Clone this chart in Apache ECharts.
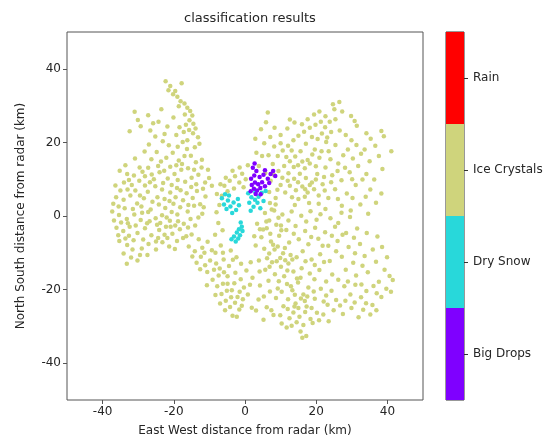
<!DOCTYPE html>
<html>
<head>
<meta charset="utf-8">
<script src="https://cdn.jsdelivr.net/npm/echarts@6/dist/echarts.min.js"></script>
<style>html,body{margin:0;padding:0;background:#fff}#c{width:554px;height:444px}</style>
</head>
<body>
<div id="c"></div>
<script>
const classNames = ['Big Drops', 'Dry Snow', 'Ice Crystals', 'Rain'];
const classColors = ['#7f00ff', '#28d8da', '#cfd47c', '#ff0000'];
const tickValues = [-40, -20, 0, 20, 40];

const iceCrystals = [
[-22.3,36.6],[-17.8,36.1],[-21.5,34.2],[-20.2,33.1],[-19.0,32.4],[-18.1,31.2],[-17.0,30.6],[-16.2,29.4],[-15.4,28.5],[-14.8,27.3],[-15.6,26.0],[-14.5,25.1],[-13.9,23.8],[-14.6,22.5],[-13.2,21.4],[-12.8,19.6],[-14.1,18.7],[-31.0,28.3],[-30.1,26.1],[-27.2,27.4],[-25.8,25.2],[-23.5,29.0],[-24.3,25.6],[-21.8,24.3],[-20.1,26.8],[-18.4,24.1],[-19.3,22.0],[-17.2,22.8],[-25.2,21.6],[-23.1,20.3],[-21.4,19.2],[-17.5,20.1],[-16.3,18.2],[-15.2,16.4],[-13.8,14.6],[-12.1,15.3],[-20.3,17.2],[-22.1,15.8],[-18.6,15.1],[-26.3,15.4],[-28.2,17.5],[-29.6,13.2],[-24.4,13.6],[-33.1,11.4],[-35.2,12.3],[-34.0,9.1],[-31.8,8.4],[-29.7,9.6],[-28.1,10.8],[-26.2,11.3],[-24.0,11.9],[-21.7,10.2],[-19.8,11.4],[-17.9,12.6],[-16.8,9.3],[-15.0,10.4],[-13.1,11.2],[-11.2,9.1],[-9.3,8.2],[-10.4,12.6],[-25.2,8.1],[-23.3,7.2],[-21.0,6.4],[-19.1,7.6],[-16.4,6.2],[-13.5,6.8],[-11.1,5.3],[-27.3,6.6],[-36.2,5.1],[-34.1,4.4],[-32.2,5.6],[-30.3,3.4],[-28.4,4.8],[-26.0,3.9],[-24.2,3.1],[-22.4,2.2],[-20.1,3.3],[-18.2,2.4],[-16.1,1.2],[-14.3,2.8],[-12.6,3.2],[-37.3,1.2],[-35.4,0.3],[-33.2,-0.8],[-31.1,0.4],[-29.3,-1.1],[-27.2,1.1],[-25.1,-0.6],[-23.3,0.2],[-21.1,-1.3],[-19.0,0.4],[-17.2,-2.1],[-15.3,-0.8],[-36.1,-3.2],[-34.2,-4.1],[-32.4,-2.9],[-30.2,-4.6],[-28.1,-3.3],[-26.3,-5.2],[-24.1,-3.8],[-22.2,-2.9],[-20.4,-4.8],[-18.3,-3.6],[-16.0,-3.1],[-35.3,-6.8],[-33.1,-7.9],[-31.3,-6.6],[-29.0,-8.8],[-27.1,-7.6],[-25.0,-9.1],[-34.1,-10.2],[-32.0,-11.3],[-30.2,-12.1],[-23.2,-7.1],[-21.3,-8.3],[-19.1,-6.8],
[-33.8,2.1],[-31.5,1.9],[-29.1,2.6],[-27.5,-2.0],[-23.8,-1.9],[-20.6,1.1],[-22.6,4.6],[-26.7,9.2],[-30.8,6.9],[-32.6,-5.4],[-28.6,-6.4],[-19.5,5.1],[-17.4,4.3],[-15.1,7.9],[-23.0,9.0],[-28.8,12.0],[-18.9,9.8],[-13.7,8.6],[-12.0,0.6],[-14.0,-2.6],[-17.7,14.1],[-21.0,13.4],[-16.0,13.0],
[-21.0,35.3],[-19.6,34.0],[-18.6,29.8],[-16.9,27.6],[-16.6,24.8],[-15.7,23.4],[-16.2,20.6],[-18.9,18.8],[-22.6,22.3],[-26.6,23.2],[-29.3,24.4],[-32.4,23.0],[-27.0,19.4],[-24.8,17.4],[-19.3,13.8],[-17.0,16.3],[-23.6,14.8],[-30.9,15.6],[-33.6,13.8],[-36.4,8.3],[-35.0,6.9],[-33.0,7.2],[-31.2,11.0],[-27.2,13.1],[-25.6,10.0],[-22.7,12.3],[-20.6,8.4],[-18.1,7.0],[-14.3,12.6],[-12.2,13.2],[-11.8,7.4],[-10.1,10.3],[-14.7,4.9],[-15.9,3.0],[-18.8,-1.4],[-20.9,-2.9],[-22.6,-5.1],[-25.0,-6.9],[-26.8,-1.4],[-28.9,0.9],[-30.7,-2.6],[-32.9,-2.0],[-34.8,-1.8],[-36.8,-1.2],[-37.0,3.3],[-35.5,2.6],[-31.6,-9.1],[-29.5,-10.6],[-27.4,-10.6],[-33.2,-13.0],[-24.4,-6.0],[-21.8,-6.0],[-19.7,-9.0],[-17.4,-6.0],[-15.0,-5.0],[-26.5,1.8],[-24.6,5.1],[-21.2,4.1],[-29.5,5.6],[-32.6,9.8],[-35.6,-5.2],[-33.6,-6.1],[-22.0,-0.4],[-19.6,-2.6],[-13.1,-0.4],[-11.6,2.4],[-24.7,-2.4],[-28.1,8.3],
[-15.8,-8.3],[-14.1,-9.6],[-12.4,-11.1],[-13.6,-12.7],[-11.2,-13.4],[-9.8,-12.1],[-10.6,-15.2],[-8.7,-14.6],[-9.1,-17.3],[-7.4,-16.2],[-7.8,-19.1],[-6.2,-18.4],[-6.6,-21.2],[-5.1,-20.3],[-5.4,-23.0],[-3.9,-22.1],[-4.2,-24.7],[-2.8,-23.6],[-3.5,-27.1],[-1.6,-25.4],[-12.0,-8.6],[-8.3,-10.0],[-6.0,-11.8],[-4.5,-13.6],[-4.9,-16.4],[-2.7,-15.4],[-3.0,-18.3],[-1.2,-17.2],[-1.5,-20.6],[-0.3,-19.4],[-0.6,-22.6],[0.8,-21.3],[-6.8,-8.0],[-4.0,-9.4],[-2.4,-11.2],[-1.1,-13.0],[0.4,-14.8],[-10.5,-7.0],[-16.5,-5.5],[-13.0,-6.3],
[-14.8,-11.0],[-12.6,-14.5],[-11.4,-10.0],[-9.3,-9.3],[-8.1,-12.9],[-7.1,-14.3],[-5.9,-15.3],[-6.2,-10.0],[-3.4,-11.9],[-3.7,-20.2],[-2.1,-22.0],[-0.9,-24.4],[-5.6,-25.6],[-2.3,-27.4],[1.4,-18.7],[1.6,-12.6],[-8.3,-21.5],[-7.0,-23.8],[-4.9,-18.4],[-10.7,-18.8],
[-5.8,8.2],[-4.3,9.6],[-2.8,10.8],[-1.6,9.1],[-4.9,6.7],[-3.1,7.5],[-0.8,11.5],[-6.5,5.5],[-7.2,3.0],[-0.4,7.8],
[-7.9,6.0],[-6.9,8.6],[-5.4,10.4],[-3.5,12.3],[-1.5,13.2],[0.2,10.0],[0.8,13.8],[-8.0,1.0],[-7.5,-1.9],[-6.3,-3.9],[4.2,-3.6],[6.0,-1.5],[7.5,1.8],[8.6,3.1],[7.0,3.5],[-8.4,-5.1],[10.2,-3.9],
[5.6,0.8],[8.2,1.5],[10.5,0.4],[13.1,1.2],[15.8,0.1],[18.4,1.3],[21.2,0.5],[24.0,-0.6],[27.1,0.9],[29.5,-0.3],[3.4,-2.1],[6.1,-3.3],[8.8,-2.4],[11.6,-3.8],[14.2,-2.7],[16.9,-4.1],[19.7,-3.2],[22.5,-4.4],[25.3,-2.9],[28.4,-4.6],[31.5,-3.4],[37.2,-5.6],[4.6,-5.8],[7.3,-6.9],[9.6,-5.4],[12.4,-7.2],[15.1,-6.3],[17.8,-7.7],[20.6,-6.2],[23.4,-8.1],[26.0,-6.8],[29.1,-8.4],[32.3,-7.6],[5.4,-8.9],[6.8,-10.2],[8.3,-9.1],[9.9,-11.4],[11.2,-8.7],[12.8,-10.6],[7.6,-12.6],[10.1,-13.8],[12.2,-12.9],[14.5,-11.2],[16.2,-9.6],[18.7,-11.8],[21.1,-10.4],[23.8,-12.2],[27.2,-11.1],[30.4,-12.7],[33.6,-10.9],[36.8,-12.4],[39.2,-14.6],[40.6,-16.3],[41.5,-17.4],[3.9,-12.1],[5.7,-14.6],[8.4,-15.8],[11.0,-16.4],[13.6,-15.1],[15.9,-14.2],[18.2,-15.6],[20.9,-14.7],[24.5,-15.9],[28.3,-14.6],[31.2,-16.2],[34.5,-15.3],[37.6,-17.9],[2.1,-16.8],[4.2,-18.9],[6.6,-17.6],[9.2,-19.7],[11.8,-18.5],[13.3,-20.2],[14.9,-18.1],[16.4,-21.3],[17.8,-19.4],[12.1,-22.6],[14.2,-23.8],[15.7,-22.4],[17.3,-24.6],[13.6,-26.2],[15.3,-27.4],[16.9,-26.1],[18.4,-28.0],[12.5,-27.8],[10.8,-24.5],[8.7,-22.3],[6.1,-24.8],[3.8,-22.7],[1.9,-24.9],[21.3,-19.8],[22.8,-21.6],[24.3,-20.3],[25.6,-22.8],[23.2,-24.1],[24.9,-25.6],[26.7,-24.3],[22.1,-23.2],[19.6,-22.5],[20.2,-26.3],[27.9,-19.1],[29.6,-21.3],[31.0,-18.7],[32.6,-22.1],[34.1,-20.4],[35.8,-24.2],[36.9,-25.6],[35.2,-26.8],[38.3,-22.0],[39.7,-19.8],[29.9,-25.0],[15.6,-31.4],[17.2,-32.6],[16.1,-33.1],[5.2,-28.2],[8.0,-26.9],[10.3,-29.2],[13.1,-29.8],[19.0,-29.1],[23.5,-28.6],
[12.9,-19.1],[14.0,-21.4],[16.8,-23.1],[15.0,-25.0],[13.9,-24.6],[17.5,-21.9],[14.6,-17.0],[12.0,-25.3],[6.2,-11.5],[8.9,-12.3],[10.7,-10.1],[7.9,-7.8],[11.9,-14.8],[6.9,-13.8],
[6.8,-1.2],[9.4,-0.5],[12.2,-1.2],[17.2,-1.5],[20.1,-1.0],[26.2,-1.9],[30.6,-5.9],[34.2,-4.6],[38.5,-8.4],[35.9,-9.1],[33.0,-13.5],[25.6,-9.6],[22.2,-12.5],[19.6,-13.3],[17.0,-12.3],[15.6,-16.8],[19.5,-17.2],[22.8,-17.8],[26.2,-17.3],[28.9,-17.8],[32.7,-18.6],[36.1,-19.0],[34.0,-23.7],[30.8,-23.5],[28.2,-23.0],[27.5,-26.6],[22.0,-26.8],[18.7,-25.0],[19.3,-20.5],[10.3,-20.6],[9.5,-17.7],[7.0,-20.5],[5.3,-21.9],[3.1,-25.7],[7.4,-25.6],[9.9,-27.0],[11.7,-30.3],[14.5,-28.9],[16.4,-29.6],[20.8,-28.3],[4.1,-15.1],[3.0,-8.0],[2.6,-5.5],[5.1,-3.7],[10.1,-2.6],[13.7,-4.8],[18.6,-5.7],[21.8,-8.1],[24.4,-5.4],[27.4,-5.1],[30.9,-10.1],[39.9,-11.2],[41.0,-20.6],[37.0,-21.0],[33.2,-25.5],[31.9,-27.5],[13.3,-11.8],[11.3,-12.0],[9.2,-8.3],[7.1,-4.8],
[6.4,28.1],[4.5,23.6],[8.3,24.0],[11.9,23.8],[13.9,25.4],[24.7,30.4],[26.5,31.0],[25.1,29.0],[27.3,28.4],[29.8,27.2],[30.8,25.8],[31.4,24.5],[38.3,23.1],[39.0,21.7],[41.1,17.6],[35.3,21.0],[9.2,16.3],[10.6,17.8],[12.1,19.1],[13.6,20.6],[15.0,21.8],[16.6,22.9],[18.2,24.0],[19.8,24.8],[21.3,25.6],[22.5,24.1],[21.6,22.4],[23.1,21.3],[24.2,22.8],[22.8,20.1],[20.4,20.9],[18.8,21.5],[17.1,19.6],[19.6,18.1],[15.6,17.6],[14.1,16.2],[12.6,14.9],[11.0,13.6],[9.4,12.2],[7.8,14.1],[6.6,16.5],[8.2,18.9],[5.4,19.8],[3.2,17.2],[10.5,10.4],[12.2,11.6],[13.8,10.1],[15.4,11.5],[17.1,10.3],[18.8,9.1],[12.6,8.2],[14.3,7.0],[16.1,8.0],[17.6,6.4],[19.4,7.3],[11.3,6.4],[13.2,5.1],[15.0,4.6],[16.8,5.2],[20.7,5.6],[21.8,8.6],[20.3,11.4],[22.6,13.2],[24.5,11.1],[26.2,14.3],[27.6,16.5],[28.9,18.1],[30.3,15.6],[31.8,13.6],[32.6,16.9],[33.6,18.1],[35.0,14.9],[34.1,11.4],[29.4,11.9],[27.1,9.7],[25.3,7.3],[23.4,4.9],[28.6,6.1],[31.1,8.4],[35.2,7.2],[38.3,6.1],[36.8,3.6],[32.4,3.1],[27.2,2.8],[18.2,14.3],[20.9,15.8],[23.5,17.6],[25.4,19.3],[24.0,15.4],[7.2,9.6],[9.1,7.1],[8.6,4.9],[5.7,11.7],[13.7,13.3],[16.8,13.0],
[14.9,9.2],[16.9,7.3],[12.0,9.6],[18.2,8.4],[19.9,9.9],
[2.9,21.0],[5.9,25.5],[10.0,22.0],[12.6,26.2],[16.0,24.9],[17.6,26.3],[19.4,27.6],[20.9,28.4],[22.6,27.1],[23.8,25.6],[25.4,26.3],[26.6,23.2],[28.3,22.0],[29.9,20.6],[31.3,19.3],[34.1,22.5],[36.6,19.1],[37.6,16.3],[38.6,12.8],[36.3,9.9],[33.0,9.9],[30.1,10.0],[28.1,13.1],[26.0,12.2],[24.2,9.2],[22.2,10.6],[21.5,17.6],[19.9,13.5],[17.6,15.2],[16.1,14.8],[14.9,13.8],[11.6,16.0],[10.0,19.8],[7.1,21.5],[13.1,17.8],[18.9,16.7],[22.4,6.9],[26.1,4.6],[30.2,4.9],[33.9,5.2],[29.7,1.5],[34.6,0.6],[6.8,6.5],[10.0,8.4],[8.1,11.2],[3.9,13.6],[4.8,16.3],[14.0,3.0],[18.0,3.5],[20.7,3.3],[22.6,1.9]
];

const drySnow = [
[-6.5,4.8],[-5.6,5.9],[-4.8,4.2],[-5.9,3.1],[-4.1,2.6],[-3.2,3.7],[-2.5,1.6],[-3.6,0.8],[-2.0,4.6],[-4.5,5.6],[-1.7,2.9],[-5.2,1.9],
[0.9,6.2],[1.8,5.1],[2.9,6.5],[3.8,5.2],[4.7,6.3],[1.2,3.6],[2.4,2.5],[3.5,3.6],[5.2,4.1],[1.6,1.4],[4.3,2.1],[2.8,4.4],[5.8,6.8],
[-1.2,-1.8],[-0.9,-2.9],[-1.7,-3.6],[-2.3,-4.5],[-1.4,-5.2],[-3.1,-5.6],[-3.8,-6.3],[-2.6,-6.9],[-1.9,-6.1],[-0.7,-4.1]
];

const bigDrops = [
[1.6,6.7],[2.5,7.4],[3.4,6.9],[4.3,7.6],[1.9,8.4],[2.8,9.1],[3.7,8.6],[4.8,9.2],[5.6,8.1],[1.7,10.1],[2.6,11.0],[3.2,12.2],[2.2,13.1],[2.7,14.3],[4.1,10.6],[5.2,11.2],[5.6,12.4],[6.4,10.1],[7.2,11.4],[7.9,12.2],[8.5,10.9],[6.8,9.0],[3.0,6.0],[4.4,5.9]
];

const rain = [];

const chart = echarts.init(document.getElementById('c'), null, {renderer: 'canvas'});
const txt = '#262626';
const font = 'DejaVu Sans';
const mk = (name, data, color) => ({
  name, type: 'scatter', xAxisIndex: 0, yAxisIndex: 0, data,
  symbol: 'circle', symbolSize: 4.5, itemStyle: {color, opacity: 1}, silent: true
});
chart.setOption({
  animation: false,
  backgroundColor: '#fff',
  textStyle: {fontFamily: font},
  title: {text: 'classification results', left: 245, top: 7, textAlign: 'center',
    textStyle: {fontSize: 13, fontWeight: 'normal', color: txt, fontFamily: font}},
  grid: [
    {left: 67, right: 131, top: 32, bottom: 44, show: true, borderColor: '#555', borderWidth: 1, backgroundColor: 'transparent'},
    {left: 446, width: 18, top: 32, bottom: 44, show: true, borderColor: '#333', borderWidth: 1}
  ],
  xAxis: [
    {type: 'value', gridIndex: 0, min: -50, max: 50, name: 'East West distance from radar (km)',
      nameLocation: 'middle', nameGap: 25, nameTextStyle: {fontSize: 12, color: txt, fontFamily: font},
      axisLine: {show: false, onZero: false}, splitLine: {show: false},
      axisTick: {show: true, length: 4, customValues: tickValues, lineStyle: {color: '#555'}},
      axisLabel: {customValues: tickValues, fontSize: 12, color: txt, margin: 6, fontFamily: font}},
    {type: 'value', gridIndex: 1, min: 0, max: 1, show: false}
  ],
  yAxis: [
    {type: 'value', gridIndex: 0, min: -50, max: 50, name: 'North South distance from radar (km)',
      nameLocation: 'middle', nameGap: 40, nameTextStyle: {fontSize: 12, color: txt, fontFamily: font},
      axisLine: {show: false, onZero: false}, splitLine: {show: false},
      axisTick: {show: true, length: 4, customValues: tickValues, lineStyle: {color: '#555'}},
      axisLabel: {customValues: tickValues, fontSize: 12, color: txt, margin: 6, fontFamily: font}},
    {type: 'category', gridIndex: 1, position: 'right', data: classNames, boundaryGap: true,
      axisLine: {show: false, onZero: false}, splitLine: {show: false},
      axisTick: {show: true, alignWithLabel: true, length: 4, lineStyle: {color: '#333'}},
      axisLabel: {fontSize: 12, color: txt, margin: 9, fontFamily: font}}
  ],
  series: [
    mk('Ice Crystals', iceCrystals, classColors[2]),
    mk('Dry Snow', drySnow, classColors[1]),
    mk('Big Drops', bigDrops, classColors[0]),
    mk('Rain', rain, classColors[3]),
    {type: 'bar', xAxisIndex: 1, yAxisIndex: 1, barWidth: '100%', silent: true,
      data: classNames.map((n, i) => ({value: 1, itemStyle: {color: classColors[i]}}))}
  ]
});
</script>
</body>
</html>
